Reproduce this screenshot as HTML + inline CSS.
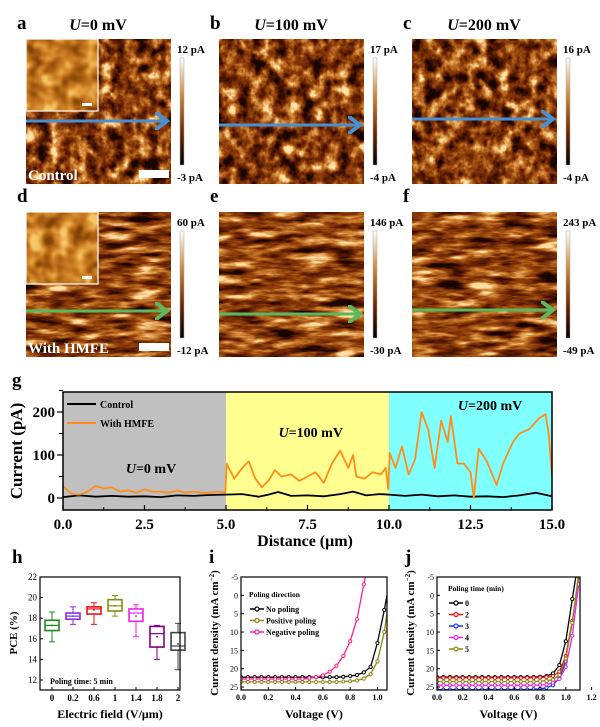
<!DOCTYPE html>
<html><head><meta charset="utf-8"><style>
html,body{margin:0;padding:0;background:#fff;}
svg{display:block;font-family:"Liberation Serif",serif;}
</style></head><body>
<svg id="fig" width="600" height="727" viewBox="0 0 600 727" xmlns="http://www.w3.org/2000/svg">
<defs>
<filter id="afm1" x="0" y="0" width="100%" height="100%" color-interpolation-filters="sRGB">
 <feTurbulence type="fractalNoise" baseFrequency="0.08 0.07" numOctaves="4" seed="3"/>
 <feColorMatrix type="matrix" values="1.1 1.1 1.1 0 -1.2  1.1 1.1 1.1 0 -1.2  1.1 1.1 1.1 0 -1.2  0 0 0 0 1"/>
 <feComponentTransfer><feFuncR type="table" tableValues="0.1 0.36 0.58 0.82 1"/><feFuncG type="table" tableValues="0.02 0.11 0.26 0.52 0.88"/><feFuncB type="table" tableValues="0 0.01 0.04 0.2 0.65"/><feFuncA type="table" tableValues="1 1"/></feComponentTransfer>
</filter>
<filter id="afm2" x="0" y="0" width="100%" height="100%" color-interpolation-filters="sRGB">
 <feTurbulence type="fractalNoise" baseFrequency="0.03 0.13" numOctaves="4" seed="7"/>
 <feColorMatrix type="matrix" values="1.1 1.1 1.1 0 -1.17  1.1 1.1 1.1 0 -1.17  1.1 1.1 1.1 0 -1.17  0 0 0 0 1"/>
 <feComponentTransfer><feFuncR type="table" tableValues="0.1 0.36 0.58 0.82 1"/><feFuncG type="table" tableValues="0.02 0.11 0.26 0.52 0.88"/><feFuncB type="table" tableValues="0 0.01 0.04 0.2 0.65"/><feFuncA type="table" tableValues="1 1"/></feComponentTransfer>
</filter>
<filter id="inset" x="0" y="0" width="100%" height="100%" color-interpolation-filters="sRGB">
 <feTurbulence type="fractalNoise" baseFrequency="0.07" numOctaves="2" seed="11"/>
 <feColorMatrix type="matrix" values="1 1 1 0 -1.0  1 1 1 0 -1.0  1 1 1 0 -1.0  0 0 0 0 1"/>
 <feComponentTransfer><feFuncR type="table" tableValues="0.5 0.7 0.85 0.97"/><feFuncG type="table" tableValues="0.26 0.4 0.56 0.78"/><feFuncB type="table" tableValues="0.03 0.08 0.18 0.42"/><feFuncA type="table" tableValues="1 1"/></feComponentTransfer>
</filter>
<linearGradient id="cbar" x1="0" y1="0" x2="0" y2="1"><stop offset="0" stop-color="#fff"/><stop offset="0.35" stop-color="#c98a3a"/><stop offset="0.7" stop-color="#6a2800"/><stop offset="1" stop-color="#000"/></linearGradient>
<marker id="ahB" markerWidth="6" markerHeight="6" refX="4" refY="3" orient="auto" markerUnits="strokeWidth"><path d="M0,0 L4,3 L0,6" fill="none" stroke="#4a8fd0" stroke-width="1.3"/></marker>
<marker id="ahG" markerWidth="6" markerHeight="6" refX="4" refY="3" orient="auto" markerUnits="strokeWidth"><path d="M0,0 L4,3 L0,6" fill="none" stroke="#5cb85c" stroke-width="1.3"/></marker>
<clipPath id="clipG"><rect x="63" y="392" width="489" height="118"/></clipPath>
<clipPath id="clipI"><rect x="241" y="577" width="146" height="113"/></clipPath>
<clipPath id="clipJ"><rect x="437" y="577" width="143" height="113"/></clipPath>
</defs>
<g id="topmaps"></g>
<g id="pg"></g>
<g id="ph"></g>
<g id="pi"></g>
<g id="pj"></g>
</svg>
<script>
// ---- panel g data ----
const gDistOrange = [0,0.25,0.5,0.75,1,1.25,1.5,1.75,2,2.25,2.5,2.75,3,3.25,3.5,3.75,4,4.25,4.5,4.75,4.98,5.02,5.25,5.5,5.7,5.9,6.1,6.3,6.5,6.7,7,7.25,7.5,7.75,8,8.25,8.5,8.75,8.9,9,9.25,9.5,9.75,9.9,9.98,10.02,10.2,10.4,10.6,10.8,11,11.2,11.4,11.6,11.8,11.9,12.1,12.3,12.5,12.6,12.75,13,13.3,13.5,13.8,14,14.3,14.6,14.8,14.9,15];
const gCurOrange = [28,10,8,15,28,22,25,15,18,12,20,15,15,12,18,12,15,12,12,15,12,80,45,70,85,45,25,40,65,50,55,40,50,60,35,80,110,70,100,50,45,60,55,70,20,105,70,120,55,90,200,160,70,180,130,190,80,80,60,0,115,85,30,80,130,150,160,185,195,150,50];
const gDistBlack = [0,0.5,1,1.5,2,2.5,3,3.5,4,4.5,5,5.5,6,6.3,6.6,7,7.5,8,8.5,8.9,9.3,9.7,10,10.5,11,11.5,12,12.5,13,13.5,14,14.5,15];
const gCurBlack = [2,6,3,5,3,4,2,6,5,7,8,9,3,8,14,5,6,4,9,15,6,9,8,5,8,4,6,3,4,2,6,12,4];
const gXTicks = ["0.0","2.5","5.0","7.5","10.0","12.5","15.0"];
const gYTicks = [0,100,200];
// ---- panel h data ----
const hCats = ["0","0.2","0.6","1","1.4","1.8","2"];
const hMin = [15.7,17.4,17.4,18.2,16.2,14.0,13.0];
const hQ1 = [16.8,17.9,18.4,18.7,17.7,15.2,14.9];
const hMed = [17.3,18.2,18.9,19.2,18.5,16.5,15.3];
const hQ3 = [17.8,18.5,19.1,19.8,18.9,17.2,16.6];
const hMax = [18.6,19.1,19.5,20.2,19.3,17.3,17.5];
const hMean = [17.3,18.2,18.8,19.2,18.2,16.2,15.5];
const hYTicks = [12,14,16,18,20,22];
// ---- panel i data ----
const iV = [0,0.05,0.1,0.15,0.2,0.25,0.3,0.35,0.4,0.45,0.5,0.55,0.6,0.65,0.7,0.75,0.8,0.85,0.9,0.95,1.0,1.05,1.1];
const iNoPoling = [22.3,22.3,22.3,22.3,22.3,22.3,22.3,22.3,22.3,22.3,22.3,22.3,22.3,22.3,22.3,22.2,22.0,21.7,21.0,19.5,13.0,4.0,-6];
const iPositive = [23.6,23.6,23.6,23.6,23.6,23.6,23.6,23.6,23.6,23.6,23.6,23.6,23.6,23.6,23.6,23.5,23.4,23.2,22.7,21.5,18.0,10.0,-3];
const iNegative = [22.8,22.8,22.8,22.8,22.8,22.8,22.8,22.8,22.8,22.8,22.6,22.3,21.8,20.8,19.2,16.5,12.5,6.5,-3,-12];
const iXTicks = ["0.0","0.2","0.4","0.6","0.8","1.0"];
const jvYTicks = [-5,0,5,10,15,20,25];
// ---- panel j data ----
const jV = [0,0.05,0.1,0.15,0.2,0.25,0.3,0.35,0.4,0.45,0.5,0.55,0.6,0.65,0.7,0.75,0.8,0.85,0.9,0.95,1.0,1.05,1.1,1.15];
const j0 = [22.3,22.3,22.3,22.3,22.3,22.3,22.3,22.3,22.3,22.3,22.3,22.3,22.3,22.3,22.3,22.3,22.2,22.0,21.3,19.0,12.5,1.0,-10];
const j2 = [22.5,22.5,22.5,22.5,22.5,22.5,22.5,22.5,22.5,22.5,22.5,22.5,22.5,22.5,22.5,22.5,22.4,22.3,22.0,20.8,16.5,7.0,-5];
const j3 = [25.7,25.7,25.7,25.7,25.7,25.7,25.7,25.7,25.7,25.7,25.7,25.7,25.7,25.7,25.7,25.6,25.5,25.2,24.5,22.5,18.0];
const j4 = [24.5,24.5,24.5,24.5,24.5,24.5,24.5,24.5,24.5,24.5,24.5,24.5,24.5,24.5,24.5,24.5,24.4,24.3,23.8,22.8,19.5,11.0,-3];
const j5 = [23.5,23.5,23.5,23.5,23.5,23.5,23.5,23.5,23.5,23.5,23.5,23.5,23.5,23.5,23.5,23.5,23.4,23.3,23.0,21.7,17.2,7.5,-6];
const jXTicks = ["0.0","0.2","0.4","0.6","0.8","1.0","1.2"];

const NS="http://www.w3.org/2000/svg";
function mk(parent,tag,attrs,text){const e=document.createElementNS(NS,tag);for(const k in attrs)e.setAttribute(k,attrs[k]);if(text!==undefined)e.textContent=text;parent.appendChild(e);return e;}
function txt(parent,x,y,s,size,opts){opts=opts||{};const t=mk(parent,'text',{x:x,y:y,'font-size':size,'font-weight':opts.w||'bold','text-anchor':opts.a||'middle',fill:opts.fill||'#000'},s);if(opts.rot)t.setAttribute('transform','rotate(-90 '+x+' '+y+')');return t;}

// ---- top AFM maps ----
const topG=document.getElementById('topmaps');
const cols=[26,219,412], rows=[39,212], W=145, H=145;
const titles=["=0 mV","=100 mV","=200 mV"];
const letters=[["a","b","c"],["d","e","f"]];
const cbTop=[["12 pA","17 pA","16 pA"],["60 pA","146 pA","243 pA"]];
const cbBot=[["-3 pA","-4 pA","-4 pA"],["-12 pA","-30 pA","-49 pA"]];
for(let r=0;r<2;r++){for(let c=0;c<3;c++){
 const x=cols[c],y=rows[r];
 const im=mk(topG,'rect',{x:x,y:y,width:W,height:H,filter:r?'url(#afm2)':'url(#afm1)',fill:'#7a3e0a'});
 
 
 const L=txt(topG,x-9,y-10,letters[r][c],19,{a:'start'});
 
 
 const ay=r? [311,314,310][c] : [121,125,119][c];
 const ar=mk(topG,'line',{x1:x,y1:ay,x2:x+W-4,y2:ay,stroke:r?'#5cb85c':'#4a8fd0','stroke-width':3,'marker-end':r?'url(#ahG)':'url(#ahB)'});
 
 
 const cb=mk(topG,'rect',{x:x+154,y:y+19,width:4,height:107,fill:'url(#cbar)',stroke:'#aaa','stroke-width':0.5});
 
 
 const t1=txt(topG,x+151,y+14,cbTop[r][c],11,{a:'start'});
 
 
 const t2=txt(topG,x+151,y+142,cbBot[r][c],11,{a:'start'});
 
 
 if(r===0){const tt=mk(topG,'text',{x:x+72,y:30,'font-size':16,'font-weight':'bold','text-anchor':'middle'});
  
  
  mk(tt,'tspan',{'font-style':'italic'},'U');mk(tt,'tspan',{},titles[c]);}
}}
for(let r=0;r<2;r++){const y=rows[r];
 const ins=mk(topG,'rect',{x:26,y:y,width:72,height:72,filter:'url(#inset)',fill:'#c88a40'});
 
 
 mk(topG,'rect',{x:26,y:y,width:72,height:72,fill:'none',stroke:'#fff','stroke-width':1.2});
 mk(topG,'rect',{x:82,y:y+64,width:10,height:3,fill:'#fff'});
 const sb=mk(topG,'rect',{x:139,y:y+131,width:30,height:8,fill:'#fff'});
 
 
 const lab=txt(topG,28,y+141,r?'With HMFE':'Control',15,{a:'start',fill:'#fff'});
 
 
}

// ---- panel g ----
const pg=document.getElementById('pg');
const gx=v=>63+v*(489/15), gy=v=>498-v*0.43;
txt(pg,12,386,'g',19,{a:'start'});
const bgs=[[0,5,'#c0c0c0'],[5,10,'#ffff90'],[10,15,'#80ffff']];
bgs.forEach(b=>{const r=mk(pg,'rect',{x:gx(b[0]),y:392,width:gx(b[1])-gx(b[0]),height:118,fill:b[2]});
 
 });
function poly(parent,xs,ys,fx,fy,color,w,clip){let d='';for(let i=0;i<xs.length&&i<ys.length;i++)d+=(i?'L':'M')+fx(xs[i]).toFixed(1)+','+fy(ys[i]).toFixed(1);const p=mk(parent,'path',{d:d,fill:'none',stroke:color,'stroke-width':w,'stroke-linejoin':'round'});if(clip)p.setAttribute('clip-path',clip);return p;}
const lb=poly(pg,gDistBlack,gCurBlack,gx,gy,'#000',1.8,'url(#clipG)');


const lo=poly(pg,gDistOrange,gCurOrange,gx,gy,'#ff8c1a',1.8,'url(#clipG)');


mk(pg,'rect',{x:63,y:392,width:489,height:118,fill:'none',stroke:'#000','stroke-width':1.5});
gXTicks.forEach((s,i)=>{const v=i*2.5;mk(pg,'line',{x1:gx(v),y1:510,x2:gx(v),y2:505,stroke:'#000','stroke-width':1.2});
 if(i<gXTicks.length-1)mk(pg,'line',{x1:gx(v+1.25),y1:510,x2:gx(v+1.25),y2:507,stroke:'#000','stroke-width':1});
 const t=txt(pg,gx(v),529,s,15);});
gYTicks.forEach(v=>{mk(pg,'line',{x1:57,y1:gy(v),x2:63,y2:gy(v),stroke:'#000','stroke-width':1.2});
 mk(pg,'line',{x1:59,y1:gy(v+50),x2:63,y2:gy(v+50),stroke:'#000','stroke-width':1});
 const t=txt(pg,55,gy(v)+5,String(v),15,{a:'end'});});
const gyt=txt(pg,22,451,'Current (pA)',17,{rot:1});
const gxt=txt(pg,305,546,'Distance  (\u03bcm)',16);
mk(pg,'line',{x1:67,y1:404,x2:96,y2:404,stroke:'#000','stroke-width':2});
const le1=txt(pg,100,408,'Control',10,{a:'start'});
mk(pg,'line',{x1:67,y1:423,x2:96,y2:423,stroke:'#ff8c1a','stroke-width':2});
const le2=txt(pg,100,427,'With HMFE',10,{a:'start'});
[[2.7,473,'=0 mV'],[7.6,437,'=100 mV'],[13.1,410,'=200 mV']].forEach(a=>{const t=mk(pg,'text',{x:gx(a[0]),y:a[1],'font-size':14,'font-weight':'bold','text-anchor':'middle'});
 
 mk(t,'tspan',{'font-style':'italic'},'U');mk(t,'tspan',{},a[2]);});

// ---- panel h ----
const ph=document.getElementById('ph');
const hx=i=>52+i*21, hy=v=>577+(22-v)*10.3;
txt(ph,12,563,'h',19,{a:'start'});
const hColors=['#1a8a1a','#8a2be2','#ee1111','#8a8a10','#ee22ee','#800080','#444'];
hCats.forEach((c,i)=>{const g=mk(ph,'g',{});
 
 
 const col=hColors[i],x=hx(i);
 mk(g,'line',{x1:x,y1:hy(hMax[i]),x2:x,y2:hy(hMin[i]),stroke:col,'stroke-width':1});
 mk(g,'line',{x1:x-3,y1:hy(hMax[i]),x2:x+3,y2:hy(hMax[i]),stroke:col,'stroke-width':1});
 mk(g,'line',{x1:x-3,y1:hy(hMin[i]),x2:x+3,y2:hy(hMin[i]),stroke:col,'stroke-width':1});
 mk(g,'rect',{x:x-7,y:hy(hQ3[i]),width:14,height:hy(hQ1[i])-hy(hQ3[i]),fill:'#fff',stroke:col,'stroke-width':1.6});
 mk(g,'line',{x1:x-7,y1:hy(hMed[i]),x2:x+7,y2:hy(hMed[i]),stroke:col,'stroke-width':1.2});
 mk(g,'rect',{x:x-0.8,y:hy(hMean[i])-0.8,width:1.6,height:1.6,fill:col});
 const t=txt(ph,x,701,c,9);
 mk(ph,'line',{x1:x,y1:690,x2:x,y2:687,stroke:'#000'});});
mk(ph,'rect',{x:40,y:577,width:140,height:113,fill:'none',stroke:'#000','stroke-width':1.2});
hYTicks.forEach(v=>{mk(ph,'line',{x1:40,y1:hy(v),x2:43,y2:hy(v),stroke:'#000'});
 const t=txt(ph,37,hy(v)+3,String(v),9,{a:'end',w:'normal'});});
const hyt=txt(ph,17,633,'PCE (%)',11,{rot:1});
const hxt=txt(ph,110,718,'Electric field (V/\u03bcm)',12);
const hnote=txt(ph,50,684,'Poling time: 5 min',8,{a:'start'});

// ---- JV panels ----
function jvPanel(parent,letter,x0,x1,vmax,xTicks,vArr,series,colors,names,clip,legTitle,legX,legY,legDy,titleX){
 const fx=v=>x0+v*((x1-x0)/vmax), fy=j=>577+(j+5)*(113/30.8);
 txt(parent,x0-32,563,letter,19,{a:'start'});
 series.forEach((s,k)=>{const p=poly(parent,vArr,s,fx,fy,colors[k],1.3,clip);
  
  
  const g=mk(parent,'g',{'clip-path':clip});
  for(let i=0;i<s.length&&i<vArr.length;i++){
   const m=mk(g,'circle',{cx:fx(vArr[i]),cy:fy(s[i]),r:1.6,fill:'#fff',stroke:colors[k],'stroke-width':1});
   
   }
 });
 mk(parent,'rect',{x:x0,y:577,width:x1-x0,height:113,fill:'none',stroke:'#000','stroke-width':1.2});
 xTicks.forEach((s,i)=>{const v=i*0.2;const xx=fx(v);mk(parent,'line',{x1:xx,y1:690,x2:xx,y2:687,stroke:'#000'});
  const t=txt(parent,xx,700,s,8);});
 jvYTicks.forEach(v=>{mk(parent,'line',{x1:x0,y1:fy(v),x2:x0+3,y2:fy(v),stroke:'#000'});
  const t=txt(parent,x0-3,fy(v)+3,String(v),8,{a:'end',w:'normal'});});
 const yt=mk(parent,'text',{x:titleX,y:633,'font-size':11,'font-weight':'bold','text-anchor':'middle',transform:'rotate(-90 '+titleX+' 633)'});
 
 mk(yt,'tspan',{},'Current density (mA cm');mk(yt,'tspan',{dy:-4,'font-size':7},'\u22122');mk(yt,'tspan',{dy:4},')');
 const xt=txt(parent,(x0+x1)/2,718,'Voltage  (V)',12);
 const lt=txt(parent,legX,legY,legTitle,7.5,{a:'start'});
 names.forEach((n,k)=>{const y=legY+12+k*legDy;
  mk(parent,'line',{x1:legX+1,y1:y,x2:legX+15,y2:y,stroke:colors[k],'stroke-width':1.5});
  mk(parent,'circle',{cx:legX+8,cy:y,r:2,fill:'#fff',stroke:colors[k],'stroke-width':1.2});
  const t=txt(parent,legX+17,y+3,n,8,{a:'start'});});
}
jvPanel(document.getElementById('pi'),'i',241,387,1.07,iXTicks,iV,[iNoPoling,iPositive,iNegative],['#000','#8a8a10','#ff2288'],['No poling','Positive poling','Negative poling'],'url(#clipI)','Poling direction',249,597,11.5,218);
jvPanel(document.getElementById('pj'),'j',437,580,1.11,jXTicks,jV,[j0,j2,j3,j4,j5],['#000','#ee1111','#1133ee','#ee22ee','#8a8a10'],['0','2','3','4','5'],'url(#clipJ)','Poling time (min)',448,591,11.5,414);
</script>
</body></html>
